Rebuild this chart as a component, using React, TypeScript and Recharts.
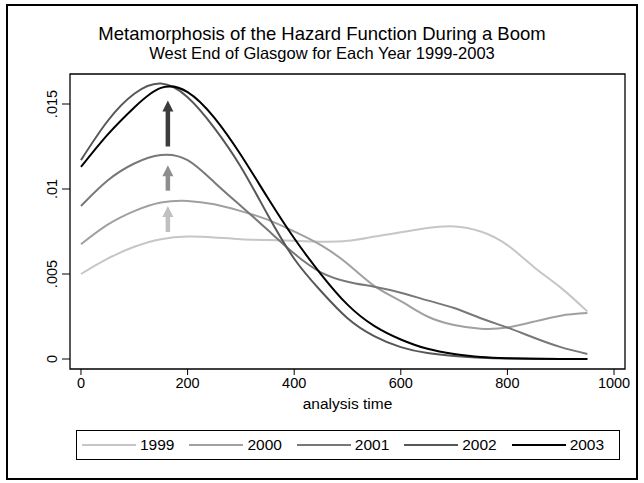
import { LineChart, Line, XAxis, YAxis, ReferenceArea, ReferenceLine, Label } from "recharts"

const times = [0, 50, 100, 150, 200, 250, 300, 350, 400, 450, 500, 550, 600, 650, 700, 750, 800, 850, 900, 950]

const hazard1999 = [0.005, 0.0059, 0.0066, 0.00705, 0.0072, 0.00715, 0.00705, 0.007, 0.00695, 0.0069, 0.00695, 0.0072, 0.00745, 0.0077, 0.0078, 0.0075, 0.0067, 0.0054, 0.0042, 0.0028]
const hazard2000 = [0.00675, 0.0079, 0.0087, 0.0092, 0.0093, 0.0091, 0.0087, 0.0082, 0.0075, 0.0067, 0.0056, 0.0043, 0.0034, 0.0025, 0.002, 0.00178, 0.00185, 0.0022, 0.00255, 0.0027]
const hazard2001 = [0.009, 0.0105, 0.0115, 0.012, 0.0117, 0.0104, 0.009, 0.0076, 0.0062, 0.0051, 0.00455, 0.00425, 0.0039, 0.00345, 0.003, 0.0024, 0.00185, 0.00125, 0.0007, 0.0003]
const hazard2002 = [0.0117, 0.014, 0.0156, 0.0162, 0.0154, 0.0136, 0.0113, 0.0085, 0.0059, 0.004, 0.0024, 0.00135, 0.0007, 0.00035, 0.00018, 0.00008, 0.00003, 0.00001, 0, 0]
const hazard2003 = [0.0113, 0.0132, 0.0148, 0.01595, 0.0157, 0.0142, 0.012, 0.0095, 0.0071, 0.005, 0.0032, 0.00195, 0.00115, 0.0006, 0.0003, 0.00012, 0.00005, 0.00002, 0, 0]

const years = ["1999", "2000", "2001", "2002", "2003"]
const yearColors = ["#c6c6c6", "#a0a0a0", "#787878", "#575757", "#000000"]
const series = [hazard1999, hazard2000, hazard2001, hazard2002, hazard2003]

const xTicks = [0, 200, 400, 600, 800, 1000]
const yTicks = [0, 0.005, 0.01, 0.015]
const yTickLabels = ["0", ".005", ".01", ".015"]
const xDomain = [-20.6, 1020.6]
const yDomain = [-0.000588, 0.016765]

// arrows showing the hump moving up, light to dark
const arrowTime = 163
const arrowFrom = [0.00747, 0.0099, 0.0125]
const arrowTo = [0.009, 0.0114, 0.0152]
const arrowColors = ["#c0c0c0", "#8e8e8e", "#3c3c3c"]

const data = times.map((t, i) => {
  const row: any = { time: t }
  years.forEach((y, k) => (row[y] = series[k][i]))
  return row
})

const font = '"Liberation Sans", Arial, sans-serif'

const Arrow = (props: any) => {
  const { x1, y1, x2, y2, stroke } = props
  const head = 11
  const half = 5.5
  return (
    <g>
      <line x1={x1} y1={y1} x2={x2} y2={y2 + head - 1} stroke={stroke} strokeWidth={4.5} />
      <polygon points={`${x2},${y2} ${x2 - half},${y2 + head} ${x2 + half},${y2 + head}`} fill={stroke} />
    </g>
  )
}

const YTick = (props: any) => {
  const { x, y, payload } = props
  const label = yTickLabels[yTicks.indexOf(payload.value)]
  const cx = x - 8
  return (
    <text x={cx} y={y} transform={`rotate(-90 ${cx} ${y})`} textAnchor="middle" dominantBaseline="central" fontSize={14.5} fill="#000">
      {label}
    </text>
  )
}

export default function App() {
  return (
    <div style={{ position: "absolute", left: 0, top: 0, width: 644, height: 483, background: "#fff", fontFamily: font }}>
      <div style={{ position: "absolute", left: 6, top: 4, width: 632, height: 476, border: "2px solid #000", boxSizing: "border-box" }} />
      <div style={{ position: "absolute", left: 0, top: 25, width: 644, textAlign: "center", fontSize: 18.5, lineHeight: 1 }}>
        Metamorphosis of the Hazard Function During a Boom
      </div>
      <div style={{ position: "absolute", left: 0, top: 45, width: 644, textAlign: "center", fontSize: 16.5, lineHeight: 1 }}>
        West End of Glasgow for Each Year 1999-2003
      </div>
      <div style={{ position: "absolute", left: 0, top: 0 }}>
        <LineChart width={644} height={483} data={data} margin={{ top: 74, right: 19, bottom: 74, left: 40 }}>
          <ReferenceArea x1={xDomain[0]} x2={xDomain[1]} y1={yDomain[0]} y2={yDomain[1]} fill="none" stroke="#000" strokeWidth={1.3} fillOpacity={0} ifOverflow="visible" />
          <XAxis
            dataKey="time"
            type="number"
            domain={xDomain}
            ticks={xTicks}
            allowDataOverflow
            height={40}
            axisLine={false}
            tickSize={6}
            tickMargin={3}
            tickLine={{ stroke: "#000" }}
            tick={{ fill: "#000", fontSize: 14.5 }}
          >
            <Label value="analysis time" position="insideTop" offset={29} fill="#000" fontSize={15.5} />
          </XAxis>
          <YAxis
            type="number"
            domain={yDomain}
            ticks={yTicks}
            allowDataOverflow
            width={30}
            axisLine={false}
            tickSize={8}
            tickLine={{ stroke: "#000" }}
            tick={<YTick />}
          />
          {years.map((y, k) => (
            <Line key={y} type="natural" dataKey={y} stroke={yearColors[k]} strokeWidth={2} dot={false} isAnimationActive={false} />
          ))}
          {arrowFrom.map((v, k) => (
            <ReferenceLine
              key={k}
              segment={[{ x: arrowTime, y: v }, { x: arrowTime, y: arrowTo[k] }]}
              stroke={arrowColors[k]}
              shape={(p: any) => <Arrow {...p} />}
            />
          ))}
        </LineChart>
      </div>
      <div
        style={{
          position: "absolute",
          left: 76,
          top: 430,
          width: 544,
          height: 30,
          border: "1px solid #000",
          boxSizing: "border-box",
          display: "flex",
          alignItems: "center",
          paddingLeft: 5,
        }}
      >
        {years.map((y, k) => (
          <div key={y} style={{ width: 110, display: "flex", alignItems: "center" }}>
            <svg width={54} height={4} style={{ marginRight: 4 }}>
              <line x1={0} y1={2} x2={54} y2={2} stroke={yearColors[k]} strokeWidth={2} />
            </svg>
            <span style={{ fontSize: 15.5, lineHeight: 1 }}>{y}</span>
          </div>
        ))}
      </div>
    </div>
  )
}
